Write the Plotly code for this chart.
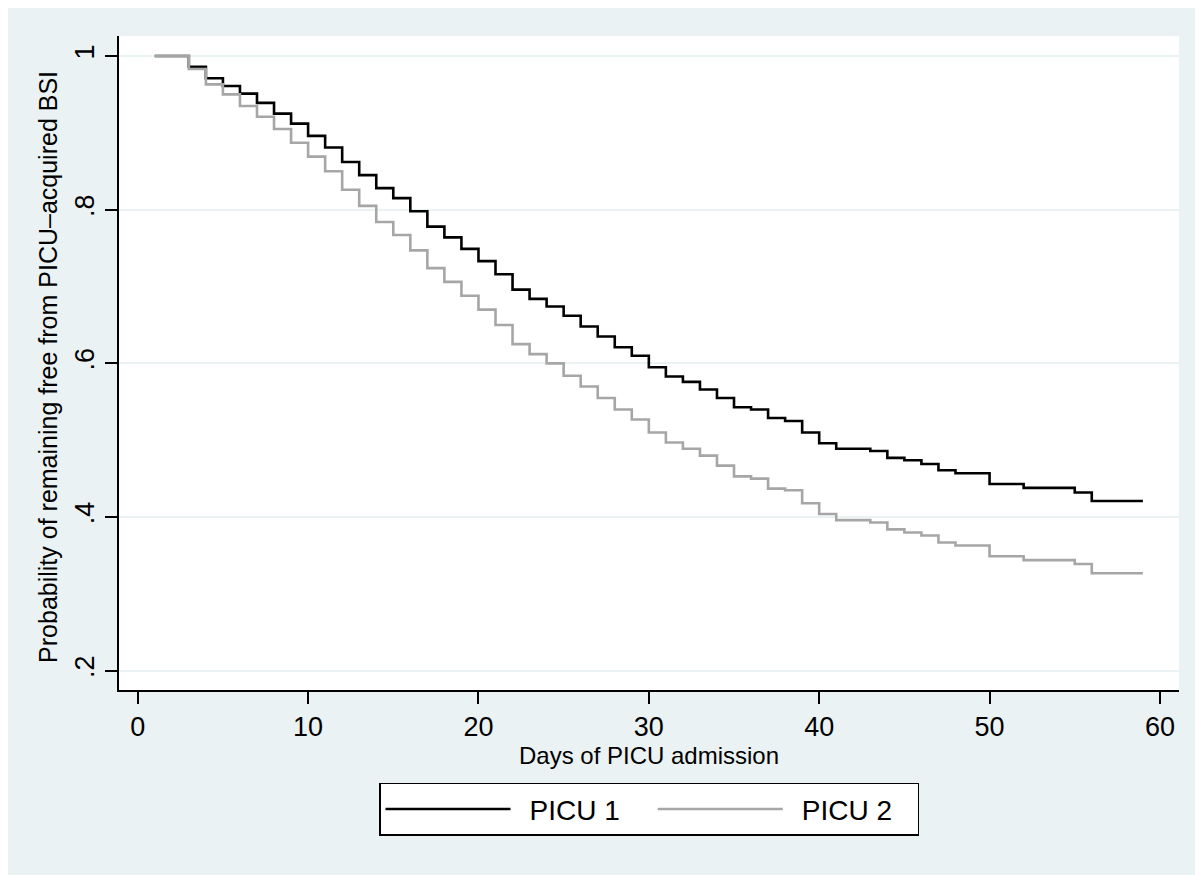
import plotly.graph_objects as go

days = [1, 2, 3, 4, 5, 6, 7, 8, 9, 10, 11, 12, 13, 14, 15, 16, 17, 18, 19, 20,
        21, 22, 23, 24, 25, 26, 27, 28, 29, 30, 31, 32, 33, 34, 35, 36, 37, 38, 39, 40,
        41, 42, 43, 44, 45, 46, 47, 48, 49, 50, 51, 52, 53, 54, 55, 56, 57, 58, 59]

picu1 = [1.0, 1.0, 0.986, 0.971, 0.961, 0.951, 0.939, 0.925, 0.912, 0.896,
         0.881, 0.862, 0.845, 0.828, 0.815, 0.798, 0.778, 0.764, 0.749, 0.733,
         0.716, 0.696, 0.684, 0.674, 0.662, 0.648, 0.635, 0.621, 0.610, 0.595,
         0.583, 0.576, 0.566, 0.555, 0.543, 0.540, 0.529, 0.525, 0.510, 0.496,
         0.489, 0.489, 0.486, 0.477, 0.474, 0.469, 0.461, 0.457, 0.457, 0.443,
         0.443, 0.438, 0.438, 0.438, 0.432, 0.421, 0.421, 0.421, 0.421]

picu2 = [1.0, 1.0, 0.983, 0.963, 0.950, 0.935, 0.921, 0.905, 0.887, 0.869,
         0.850, 0.826, 0.805, 0.784, 0.767, 0.747, 0.724, 0.706, 0.688, 0.670,
         0.650, 0.625, 0.612, 0.600, 0.584, 0.570, 0.555, 0.540, 0.527, 0.510,
         0.497, 0.489, 0.480, 0.467, 0.453, 0.450, 0.437, 0.435, 0.418, 0.404,
         0.396, 0.396, 0.393, 0.384, 0.380, 0.376, 0.367, 0.363, 0.363, 0.349,
         0.349, 0.344, 0.344, 0.344, 0.339, 0.327, 0.327, 0.327, 0.327]

series_names = ["\u2002PICU 1\u2002\u2002", "\u2002PICU 2\u2002\u2009"]

x_ticks = [0, 10, 20, 30, 40, 50, 60]
y_ticks = [0.2, 0.4, 0.6, 0.8, 1.0]
y_ticktext = [".2", ".4", ".6", ".8", "1"]

BG = "#EAF2F3"
FONT = "Liberation Sans, Arial, sans-serif"

fig = go.Figure()
fig.add_trace(go.Scatter(x=days, y=picu1, mode="lines", line_shape="hv",
                         name=series_names[0], line=dict(color="#000000", width=2.6)))
fig.add_trace(go.Scatter(x=days, y=picu2, mode="lines", line_shape="hv",
                         name=series_names[1], line=dict(color="#A6A6A6", width=2.6)))

fig.update_layout(
    width=1195, height=867,
    margin=dict(l=111, r=24, t=28, b=185),
    paper_bgcolor=BG, plot_bgcolor="white",
    font=dict(family=FONT, color="#000000"),
    showlegend=True,
    legend=dict(orientation="h", x=0.5, xanchor="center", y=-0.142, yanchor="top",
                bgcolor="white", bordercolor="#000000", borderwidth=1.5,
                font=dict(size=28), itemwidth=125,
                tracegroupgap=0),
    xaxis=dict(range=[-1.1, 61.12], tickvals=x_ticks, ticks="outside", ticklen=12,
               tickwidth=1.5, tickcolor="#000000", showline=True, linecolor="#000000",
               linewidth=1.5, showgrid=False, zeroline=False,
               tickfont=dict(size=27),
               title=dict(text="Days of PICU admission", font=dict(size=24), standoff=0)),
    yaxis=dict(range=[0.175, 1.026], tickvals=y_ticks, ticktext=y_ticktext,
               ticks="outside", ticklen=12, tickwidth=1.5, tickcolor="#000000",
               showline=True, linecolor="#000000", linewidth=1.5,
               showgrid=True, gridcolor=BG, gridwidth=2, zeroline=False,
               tickangle=-90, tickfont=dict(size=27)),
    annotations=[
        dict(text="Probability of remaining free from PICU\u2013acquired BSI",
             xref="paper", yref="paper", x=-0.067, y=0.494,
             xanchor="center", yanchor="middle", textangle=-90,
             showarrow=False, font=dict(size=25)),
    ],
)

fig.write_html("out.html")
